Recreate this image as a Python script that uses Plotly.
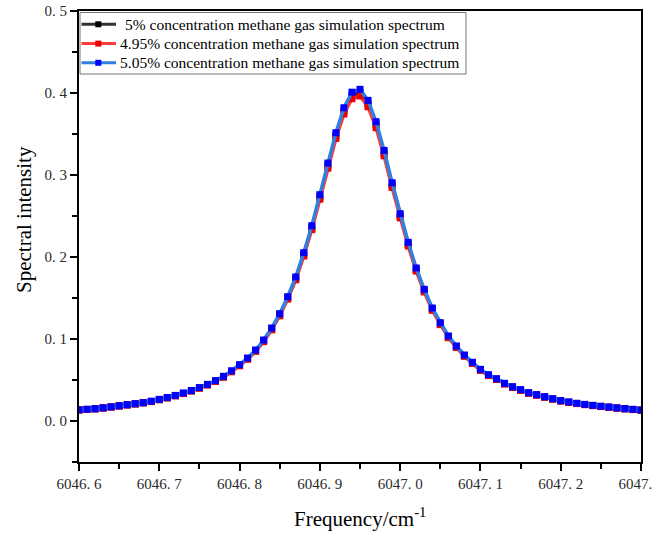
import plotly.graph_objects as go

# Frequency grid (cm^-1), 0.01 step from 6046.60 to 6047.30
freq = [round(6046.60 + 0.01 * i, 2) for i in range(71)]

# 5.05% concentration (blue)
blue_vals = [0.0137, 0.0143, 0.0150, 0.0161, 0.0173, 0.0186, 0.0199, 0.0211, 0.0224, 0.0241,
             0.0264, 0.0287, 0.0312, 0.0341, 0.0372, 0.0408, 0.0447, 0.0493, 0.0545, 0.0612,
             0.0687, 0.0768, 0.0866, 0.0988, 0.1134, 0.1309, 0.1516, 0.1757, 0.2053, 0.2382,
             0.2760, 0.3146, 0.3516, 0.3820, 0.4010, 0.4045, 0.3910, 0.3650, 0.3300, 0.2906,
             0.2528, 0.2179, 0.1866, 0.1606, 0.1378, 0.1199, 0.1037, 0.0915, 0.0805, 0.0716,
             0.0630, 0.0565, 0.0516, 0.0460, 0.0418, 0.0382, 0.0345, 0.0321, 0.0296, 0.0272,
             0.0248, 0.0232, 0.0216, 0.0203, 0.0191, 0.0180, 0.0170, 0.0160, 0.0151, 0.0142,
             0.0134]

# 4.95% concentration (red)
red_vals = [0.0134, 0.0140, 0.0147, 0.0158, 0.0170, 0.0182, 0.0195, 0.0207, 0.0220, 0.0236,
            0.0259, 0.0281, 0.0306, 0.0334, 0.0365, 0.0400, 0.0438, 0.0483, 0.0534, 0.0600,
            0.0673, 0.0753, 0.0849, 0.0968, 0.1111, 0.1283, 0.1486, 0.1722, 0.2012, 0.2334,
            0.2705, 0.3083, 0.3446, 0.3744, 0.3930, 0.3964, 0.3832, 0.3577, 0.3234, 0.2848,
            0.2477, 0.2135, 0.1829, 0.1574, 0.1350, 0.1175, 0.1016, 0.0897, 0.0789, 0.0702,
            0.0617, 0.0554, 0.0506, 0.0451, 0.0410, 0.0374, 0.0338, 0.0315, 0.0290, 0.0267,
            0.0243, 0.0227, 0.0212, 0.0199, 0.0187, 0.0176, 0.0167, 0.0157, 0.0148, 0.0139,
            0.0131]

# 5% concentration (black)
black_vals = [0.0136, 0.0142, 0.0149, 0.0159, 0.0171, 0.0184, 0.0197, 0.0209, 0.0222, 0.0239,
              0.0261, 0.0284, 0.0309, 0.0338, 0.0368, 0.0404, 0.0443, 0.0488, 0.0540, 0.0606,
              0.0680, 0.0760, 0.0857, 0.0978, 0.1123, 0.1296, 0.1501, 0.1739, 0.2032, 0.2358,
              0.2732, 0.3115, 0.3481, 0.3782, 0.3970, 0.4005, 0.3871, 0.3614, 0.3267, 0.2877,
              0.2503, 0.2157, 0.1847, 0.1590, 0.1364, 0.1187, 0.1027, 0.0906, 0.0797, 0.0709,
              0.0624, 0.0559, 0.0511, 0.0455, 0.0414, 0.0378, 0.0342, 0.0318, 0.0293, 0.0269,
              0.0246, 0.0230, 0.0214, 0.0201, 0.0189, 0.0178, 0.0168, 0.0158, 0.0149, 0.0141,
              0.0133]

assert len(blue_vals) == len(freq) and len(red_vals) == len(freq) and len(black_vals) == len(freq)

series_names = ["5% concentration methane gas simulation spectrum",
                "4.95% concentration methane gas simulation spectrum",
                "5.05% concentration methane gas simulation spectrum"]

x_tickvals = [6046.6, 6046.7, 6046.8, 6046.9, 6047.0, 6047.1, 6047.2, 6047.3]
x_ticktext = ["6046. 6", "6046. 7", "6046. 8", "6046. 9", "6047. 0", "6047. 1", "6047. 2", "6047. 3"]
y_tickvals = [0.0, 0.1, 0.2, 0.3, 0.4, 0.5]
y_ticktext = ["0. 0", "0. 1", "0. 2", "0. 3", "0. 4", "0. 5"]

FONT = "Liberation Serif"
TICKFONT = dict(family="Liberation Serif", size=15, color="#2a2a2a")

# plot-area geometry in pixels (for placing the hand-drawn legend box)
W, H = 653, 535
ML, MR, MT, MB = 79, 12, 11, 73
PW, PH = W - ML - MR, H - MT - MB


def px(x):
    return (x - ML) / PW


def py(y):
    return (H - MB - y) / PH


styles = [
    (black_vals, series_names[0], "#333333", "#000000"),
    (red_vals, series_names[1], "#ff3b3b", "#ee0000"),
    (blue_vals, series_names[2], "#2f80e0", "#0000ff"),
]

fig = go.Figure()
for vals, name, lc, mc in styles:
    fig.add_trace(go.Scatter(
        x=freq, y=vals, name=name, mode="lines+markers",
        line=dict(color=lc, width=3.5),
        marker=dict(symbol="square", size=7, color=mc, line=dict(width=0)),
        cliponaxis=True, showlegend=False,
    ))

axis_common = dict(
    showline=True, linecolor="black", linewidth=1.8, mirror=True,
    ticks="outside", ticklen=7, tickwidth=1.5, tickcolor="black",
    showgrid=False, zeroline=False,
    ticklabeloverflow="allow", automargin=False,
)

# legend drawn as shapes + text
shapes = [dict(type="rect", xref="paper", yref="paper", layer="above",
               x0=px(80), x1=px(466), y0=py(74), y1=py(12.5),
               line=dict(color="#777777", width=1), fillcolor="white")]
annotations = []
row_y = [24.3, 43.6, 62.8]
text_x = [123, 118, 118]
for (vals, name, lc, mc), ry, tx in zip(styles, row_y, text_x):
    shapes.append(dict(type="line", xref="paper", yref="paper", layer="above",
                       x0=px(81.5), x1=px(116), y0=py(ry), y1=py(ry),
                       line=dict(color=lc, width=3)))
    shapes.append(dict(type="rect", xref="paper", yref="paper", layer="above",
                       x0=px(95.3), x1=px(101.3), y0=py(ry + 3), y1=py(ry - 3),
                       line=dict(width=0), fillcolor=mc))
    annotations.append(dict(text=name, xref="paper", yref="paper", x=px(tx), y=py(ry),
                            xanchor="left", yanchor="middle", showarrow=False,
                            font=dict(family=FONT, size=15.5, color="black")))

annotations += [
    dict(text="Spectral intensity", xref="paper", yref="paper",
         x=px(24), y=py(220), textangle=-90, showarrow=False,
         xanchor="center", yanchor="middle",
         font=dict(family=FONT, size=21, color="black")),
    dict(text="Frequency/cm<sup>-1</sup>", xref="paper", yref="paper",
         x=0.5, y=py(517), showarrow=False,
         xanchor="center", yanchor="middle",
         font=dict(family=FONT, size=21, color="black")),
]

fig.update_layout(
    xaxis=dict(
        range=[6046.6, 6047.3], tickmode="array", tickvals=x_tickvals, ticktext=x_ticktext,
        tickfont=TICKFONT,
        minor=dict(dtick=0.05, tick0=6046.6, ticks="outside", ticklen=5, tickwidth=1.5, tickcolor="black"),
        **axis_common,
    ),
    yaxis=dict(
        range=[-0.05, 0.5], tickmode="array", tickvals=y_tickvals, ticktext=y_ticktext,
        tickfont=TICKFONT,
        minor=dict(dtick=0.05, tick0=0, ticks="outside", ticklen=5, tickwidth=1.5, tickcolor="black"),
        **axis_common,
    ),
    width=W, height=H,
    margin=dict(l=ML, r=MR, t=MT, b=MB, autoexpand=False),
    plot_bgcolor="white", paper_bgcolor="white",
    font=dict(family=FONT, color="black", size=14),
    showlegend=False,
    shapes=shapes,
    annotations=annotations,
)

fig.write_html("out.html")
